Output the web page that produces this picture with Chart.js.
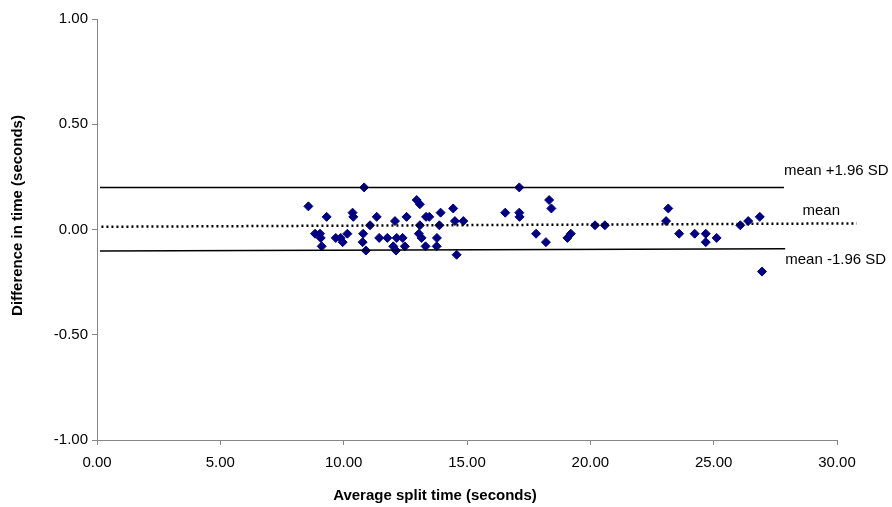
<!DOCTYPE html>
<html>
<head>
<meta charset="utf-8">
<script src="https://cdn.jsdelivr.net/npm/chart.js@4.4.1/dist/chart.umd.min.js"></script>
<style>
  html, body { margin: 0; padding: 0; background: #fff; }
  #wrap { width: 892px; height: 507px; }
</style>
</head>
<body>
<div id="wrap"><canvas id="chart" width="892" height="507"></canvas></div>
<script>
// average split time (seconds) for each swimmer/split
const avgTime = [
  8.57, 8.84, 9.04, 9.07, 9.11, 9.31, 9.68, 9.88, 9.96, 10.15,
  10.36, 10.39, 10.83, 10.79, 10.77, 10.90, 11.07, 11.34, 11.44, 11.77,
  12.08, 12.01, 12.12, 12.15, 12.39, 12.48, 12.55, 12.96, 13.09, 13.09,
  13.05, 13.16, 13.32, 13.34, 13.47, 13.93, 13.88, 13.78, 13.77, 14.44,
  14.51, 14.85, 14.58, 16.55, 17.12, 17.12, 17.13, 17.80, 18.20, 18.33,
  18.42, 19.07, 19.21, 20.19, 20.59, 23.16, 23.07, 23.60, 24.23, 24.68,
  24.68, 25.12, 26.08, 26.40, 26.87, 26.96
];
// difference between the two timing methods (seconds)
const timeDiff = [
  0.11, -0.02, -0.02, -0.04, -0.08, 0.06, -0.04, -0.04, -0.06, -0.02,
  0.08, 0.06, 0.20, -0.02, -0.06, -0.10, 0.02, 0.06, -0.04, -0.04,
  0.04, -0.08, -0.10, -0.04, -0.04, -0.08, 0.06, 0.14, 0.12, 0.02,
  -0.02, -0.04, -0.08, 0.06, 0.06, 0.08, 0.02, -0.04, -0.08, 0.10,
  0.04, 0.04, -0.12, 0.08, 0.20, 0.08, 0.06, -0.02, -0.06, 0.14,
  0.10, -0.04, -0.02, 0.02, 0.02, 0.10, 0.04, -0.02, -0.02, -0.02,
  -0.06, -0.04, 0.02, 0.04, 0.06, -0.20
];

// reference lines (start and end points, as drawn in the original)
const upperLimitX = [0.12, 27.85];
const upperLimitY = [0.20, 0.20];
const meanLineX = [0.18, 30.8];
const meanLineY = [0.013, 0.029];
const lowerLimitX = [0.12, 27.9];
const lowerLimitY = [-0.102, -0.091];

const lineLabels = ['mean +1.96 SD', 'mean', 'mean -1.96 SD'];
const labelX = [27.85, 28.6, 27.9];
const labelY = [0.28, 0.09, -0.145];

const xTitle = 'Average split time (seconds)';
const yTitle = 'Difference in time (seconds)';

const FONT = '"Liberation Sans", Arial, sans-serif';
const AXIS_GREY = '#868686';

const toPoints = (xs, ys) => xs.map((x, i) => ({ x: x, y: ys[i] }));

// text next to each reference line, plus the two axis titles
// (the titles sit a bit off the plot centre in the original, so they are drawn here)
const textPlugin = {
  id: 'chartText',
  afterDatasetsDraw(chart) {
    const { ctx, scales, chartArea } = chart;
    ctx.save();
    ctx.fillStyle = '#000';
    ctx.font = '15px ' + FONT;
    ctx.textAlign = 'left';
    ctx.textBaseline = 'middle';
    lineLabels.forEach((txt, i) => {
      ctx.fillText(txt, scales.x.getPixelForValue(labelX[i]), scales.y.getPixelForValue(labelY[i]));
    });

    ctx.font = 'bold 15px ' + FONT;
    ctx.textAlign = 'center';
    ctx.fillText(xTitle, (chartArea.left + chartArea.right) / 2 - 32, chart.height - 11);

    ctx.translate(18, (chartArea.top + chartArea.bottom) / 2 - 14);
    ctx.rotate(-Math.PI / 2);
    ctx.fillText(yTitle, 0, 0);
    ctx.restore();
  }
};

const refLine = (xs, ys, dash, width) => ({
  type: 'line',
  data: toPoints(xs, ys),
  showLine: true,
  borderColor: '#000',
  borderWidth: width,
  borderDash: dash,
  pointRadius: 0,
  fill: false,
  clip: false
});

const ctx = document.getElementById('chart').getContext('2d');
new Chart(ctx, {
  type: 'scatter',
  data: {
    datasets: [
      refLine(upperLimitX, upperLimitY, [], 1.5),
      refLine(meanLineX, meanLineY, [2, 3], 2.5),
      refLine(lowerLimitX, lowerLimitY, [], 1.5),
      {
        data: toPoints(avgTime, timeDiff),
        pointStyle: 'rectRot',
        pointRadius: 4.5,
        borderWidth: 1,
        backgroundColor: '#000080',
        borderColor: '#000080'
      }
    ]
  },
  options: {
    responsive: false,
    animation: false,
    events: [],
    layout: { padding: { top: 19, right: 55, bottom: 0, left: 0 } },
    plugins: {
      legend: { display: false },
      tooltip: { enabled: false }
    },
    scales: {
      x: {
        type: 'linear',
        min: 0,
        max: 30,
        afterFit: (scale) => { scale.height = 67; },
        border: { color: AXIS_GREY, width: 1 },
        grid: { drawOnChartArea: false, drawTicks: true, tickLength: 5, color: AXIS_GREY },
        ticks: {
          stepSize: 5,
          padding: 9,
          color: '#000',
          font: { family: FONT, size: 15 },
          callback: (v) => Number(v).toFixed(2)
        }
      },
      y: {
        type: 'linear',
        min: -1,
        max: 1,
        afterFit: (scale) => { scale.width = 97; },
        border: { color: AXIS_GREY, width: 1 },
        grid: { drawOnChartArea: false, drawTicks: true, tickLength: 5, color: AXIS_GREY },
        ticks: {
          stepSize: 0.5,
          padding: 4,
          color: '#000',
          font: { family: FONT, size: 15 },
          callback: (v) => Number(v).toFixed(2)
        }
      }
    }
  },
  plugins: [textPlugin]
});
</script>
</body>
</html>
